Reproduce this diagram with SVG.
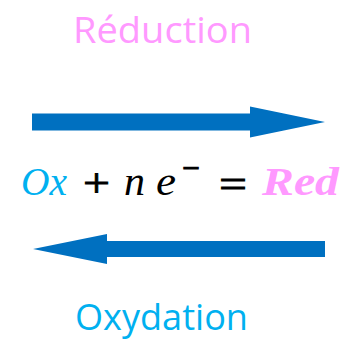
<svg xmlns="http://www.w3.org/2000/svg" width="358" height="340" viewBox="0 0 358 340">
<style>
.lbl{font-family:"Open Sans","Noto Sans",sans-serif;font-size:37px;font-weight:500}
.m{font-family:"Liberation Serif",serif;font-size:39px;font-style:italic;fill:#000}
.op{font-family:"Liberation Serif",serif;font-size:39px;fill:#000;stroke:#000;stroke-width:0.8}
.arrow{fill:#0070C0}
</style>
<rect width="358" height="340" fill="#fff"/>
<g id="reduction">
<text class="lbl" x="73" y="43" fill="#FF99FF" textLength="179" lengthAdjust="spacingAndGlyphs">Réduction</text>
</g>
<g id="equation">
<text class="m" x="21" y="195" style="fill:#00B0F0" textLength="46" lengthAdjust="spacingAndGlyphs">Ox</text>
<text class="op" x="83" y="196" textLength="27" lengthAdjust="spacingAndGlyphs">+</text>
<text class="m" x="124" y="195" textLength="21" lengthAdjust="spacingAndGlyphs">n</text>
<text class="m" x="156" y="195" textLength="20" lengthAdjust="spacingAndGlyphs">e</text>
<text class="op" x="182" y="181" textLength="18" lengthAdjust="spacingAndGlyphs">−</text>
<text class="op" x="219" y="198" textLength="28" lengthAdjust="spacingAndGlyphs">=</text>
<text class="m" x="262" y="195" style="fill:#FF99FF;font-weight:bold" textLength="77" lengthAdjust="spacingAndGlyphs">Red</text>
</g>
<g id="oxydation">
<text class="lbl" x="75" y="330" fill="#00B0F0" textLength="173" lengthAdjust="spacingAndGlyphs">Oxydation</text>
</g>
<g id="connectors">
<path class="arrow" d="M32,113.5 L250,113.5 L250,106.5 L325,122 L250,137.5 L250,130.5 L32,130.5 Z"/>
<path class="arrow" d="M325,241 L107,241 L107,234 L33,249 L107,264 L107,257 L325,257 Z"/>
</g>
</svg>
